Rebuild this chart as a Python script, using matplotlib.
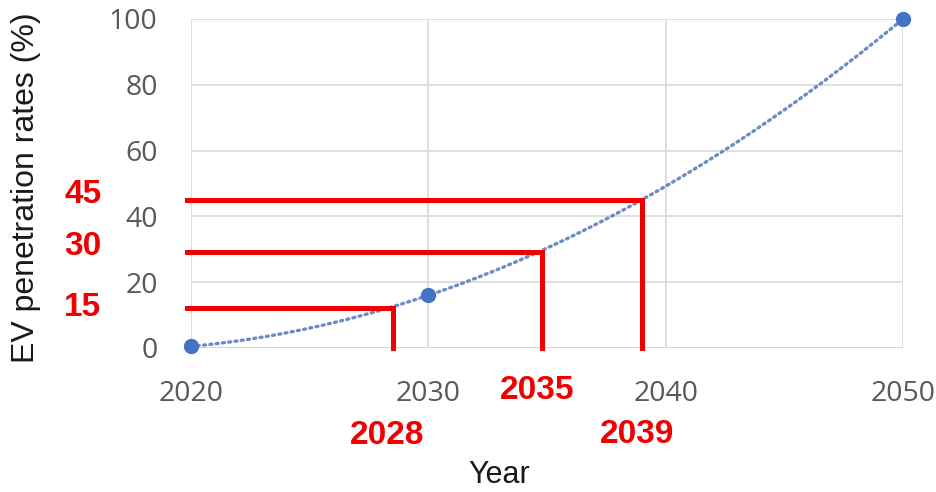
import numpy as np
import matplotlib
matplotlib.use("Agg")
import matplotlib.pyplot as plt

plt.rcParams['font.family'] = ['Open Sans', 'DejaVu Sans']

# Data points (year, EV penetration rate %)
years = [2020, 2030, 2050]
rates = [0.5, 16, 100]

# Threshold markers (rate levels)
threshold_rates = [45, 29.3, 12.3]
threshold_years = [2039.0, 2034.8, 2028.5]
rate_labels = ["45", "30", "15"]
year_labels = ["2039", "2035", "2028"]

x_ticks = [2020, 2030, 2040, 2050]
y_ticks = [0, 20, 40, 60, 80, 100]

fig = plt.figure(figsize=(9.37, 4.92), dpi=100)
ax = fig.add_axes([0.2038, 0.2927, 0.7599, 0.6687])

# quadratic trend line fitted to the points
coef = np.polyfit(years, rates, 2)
xs = np.linspace(years[0], years[-1], 200)
ax.plot(xs, np.polyval(coef, xs), linestyle=(0, (0.6, 1.3)), color='#6b8cc4',
        linewidth=2.4, dash_capstyle='round', zorder=3)
ax.plot(years, rates, 'o', color='#4472C4', markersize=10, zorder=5, clip_on=False)

red = '#f00000'
for r, y in zip(threshold_rates, threshold_years):
    ax.plot([2019.85, y, y], [r, r, 0], color=red, linewidth=3.6,
            solid_joinstyle='miter', zorder=4, clip_on=False)

bold_font = ['Liberation Sans', 'DejaVu Sans']
ytr = ax.get_yaxis_transform()
xtr = ax.get_xaxis_transform()
rate_text_y = [46.8, 30.7, 12.2]
for r, lab in zip(rate_text_y, rate_labels):
    ax.text(-0.152, r, lab, transform=ytr, color=red, fontsize=24, fontweight='bold',
            family=bold_font, ha='center', va='center')
year_text_y = [-0.2644, -0.1307, -0.2675]
for y, lab, ty in zip(threshold_years, year_labels, year_text_y):
    ax.text(y - 0.22, ty, lab, transform=xtr, color=red, fontsize=24, fontweight='bold',
            family=bold_font, ha='center', va='center')

ax.set_xlim(2020, 2050)
ax.set_ylim(0, 100)
ax.set_xticks(x_ticks)
ax.set_yticks(y_ticks)
ax.tick_params(length=0, labelsize=20.5, labelcolor='#595959')
ax.tick_params(axis='x', pad=23)
ax.tick_params(axis='y', pad=24)
ax.grid(True, color='#d9d9d9', linewidth=1.2)
for s in ax.spines.values():
    s.set_visible(False)
ax.axhline(0, color='#d0d0d0', linewidth=1.4, zorder=1)

fig.text(0.5325, 0.004, 'Year', fontsize=22, color='#1a1a1a', family=bold_font,
         ha='center', va='bottom')
fig.text(0.028, 0.618, 'EV penetration rates (%)', rotation=90, fontsize=23,
         color='#1a1a1a', family=bold_font, ha='center', va='center')

fig.savefig('out.png', dpi=100)
